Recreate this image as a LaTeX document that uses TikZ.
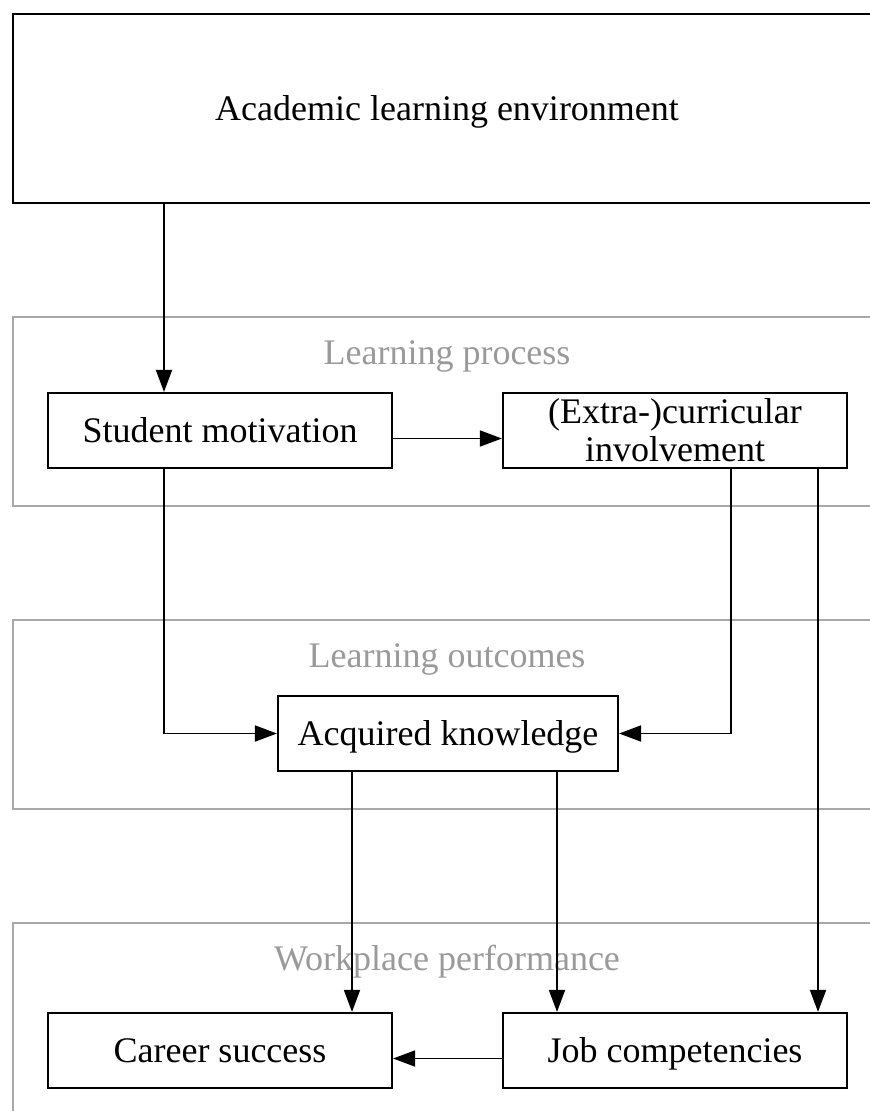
\documentclass[tikz,border=0pt]{standalone}
\usepackage{fontspec}
\setmainfont{Liberation Serif}
\usetikzlibrary{arrows.meta}
\definecolor{grouptext}{HTML}{9A9A9A}
\definecolor{groupline}{HTML}{A8A8A8}
\tikzset{
  every picture/.style={x=1pt,y=-1pt},
  box/.style={draw=black,line width=2.2pt,minimum width=344pt,minimum height=75pt,
    inner sep=0pt,align=center,text height=26pt,text depth=2pt,
    font=\fontsize{36}{38}\selectfont},
  envbox/.style={draw=black,line width=2.4pt,minimum width=868pt,minimum height=189pt,
    inner sep=0pt,text height=26pt,text depth=2pt,font=\fontsize{36}{38}\selectfont},
  groupbox/.style={draw=groupline,line width=2.2pt,minimum width=868pt,minimum height=189pt,inner sep=0pt},
  grouplabel/.style={text=grouptext,inner sep=0pt,font=\fontsize{36}{38}\selectfont},
  arr/.style={draw=black,line width=1.8pt,-{Triangle[length=22pt,width=16pt]}},
}
\begin{document}
\begin{tikzpicture}
\useasboundingbox (0,0) rectangle (870,1111);
\clip (0,0) rectangle (870,1111);
\fill[white] (0,0) rectangle (870,1111);

% group frames, open to the right edge
\node[groupbox] (gproc) at (447,411.5) {};
\node[groupbox] (gout)  at (447,714.5) {};
\node[groupbox] (gwork) at (447,1017.5) {};
\node[grouplabel] (lproc) at (447,356) {Learning process};
\node[grouplabel] (lout)  at (447,659) {Learning outcomes};
\node[grouplabel] (lwork) at (447,962) {Workplace performance};

% factors
\node[envbox] (env) at (447,108.5) {Academic learning environment};
\node[box] (sm)  at (220,430.5) {Student motivation};
\node[box,text height=64pt,text depth=2pt] (eci) at (675,430.5) {(Extra-)curricular\\involvement};
\node[box,minimum width=340pt] (ak) at (448,733.5) {Acquired knowledge};
\node[box] (cs)  at (220,1050.5) {Career success};
\node[box] (jc)  at (675,1050.5) {Job competencies};

% connector columns
\coordinate (xa) at (164,0);
\coordinate (xb) at (731,0);
\coordinate (xc) at (818,0);
\coordinate (xd) at (352,0);
\coordinate (xe) at (557,0);

\draw[arr] (env.south -| xa) -- (sm.north -| xa);
\draw[arr] ([yshift=-8pt]sm.east) -- ([yshift=-8pt]eci.west);
\draw[arr] (sm.south -| xa) |- (ak.west);
\draw[arr] (eci.south -| xb) |- (ak.east);
\draw[arr] (eci.south -| xc) -- (jc.north -| xc);
\draw[arr] (ak.south -| xd) -- (cs.north -| xd);
\draw[arr] (ak.south -| xe) -- (jc.north -| xe);
\draw[arr] ([yshift=-8pt]jc.west) -- ([yshift=-8pt]cs.east);
\end{tikzpicture}
\end{document}
